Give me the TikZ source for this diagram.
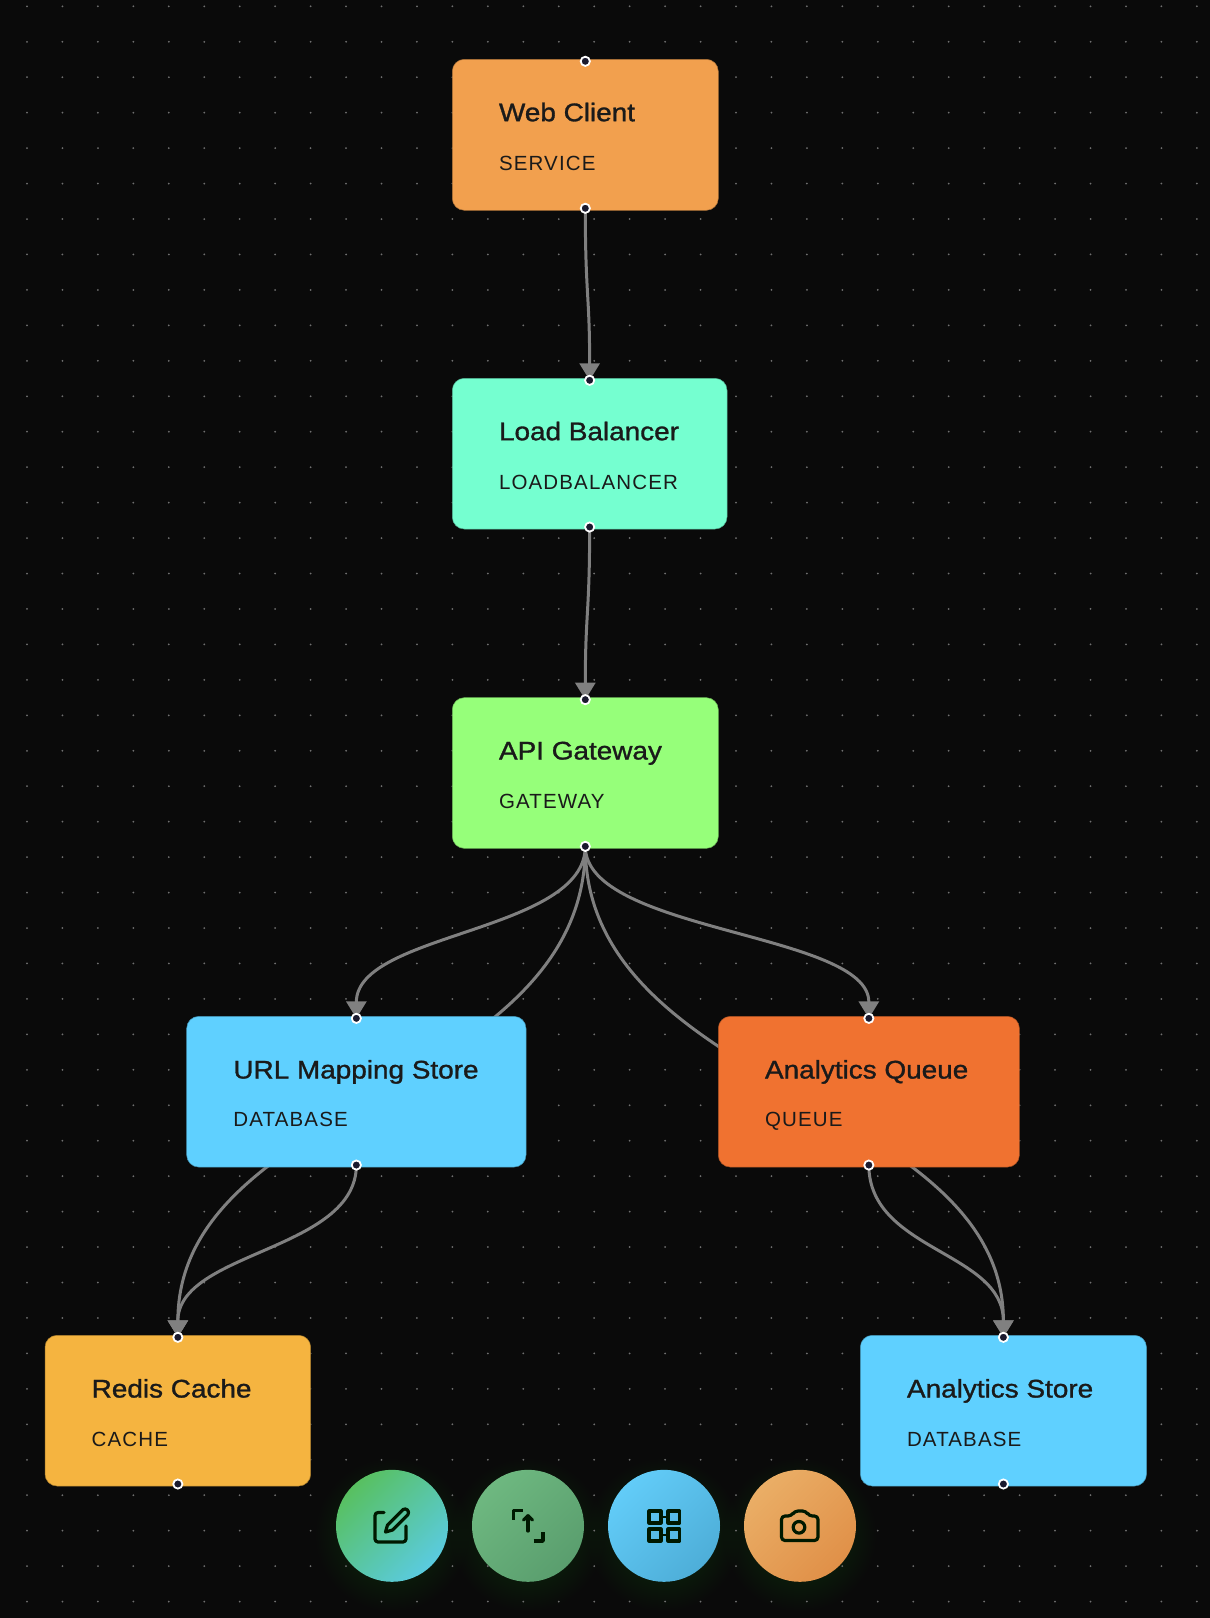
\documentclass[tikz,border=0pt]{standalone}
\usepackage{fontspec}
\usetikzlibrary{arrows.meta}
\newfontfamily\cardtitlefont{Liberation Sans}[FakeBold=1.2,FakeStretch=1.095]
\newfontfamily\cardsubfont{Liberation Sans}[LetterSpace=5.6]
\definecolor{canvas}{HTML}{0A0A0A}
\definecolor{griddot}{HTML}{707070}
\definecolor{glowgreen}{HTML}{50A05A}
\definecolor{linkgray}{HTML}{808080}
\definecolor{inkdark}{HTML}{1A1A1A}
\definecolor{portdark}{HTML}{1A1A2E}
\definecolor{webcol}{HTML}{F2A04E}
\definecolor{lbcol}{HTML}{75FFD0}
\definecolor{gwcol}{HTML}{96FF7A}
\definecolor{dbcol}{HTML}{5FD0FF}
\definecolor{queuecol}{HTML}{F07230}
\definecolor{cachecol}{HTML}{F5B440}
\pgfdeclarelayer{griddots}
\pgfdeclarelayer{links}
\pgfsetlayers{griddots,links,main}
\tikzset{
  card/.style={rectangle,rounded corners=12pt,inner sep=0pt,outer sep=0pt,draw=#1!70!black,line width=0.5pt,fill=#1},
  cardtitle/.style={anchor=base west,inner sep=0pt,text=inkdark,font=\cardtitlefont\fontsize{25.5}{30}\selectfont},
  cardsub/.style={anchor=base west,inner sep=0pt,text=inkdark,font=\cardsubfont\fontsize{20.5}{24}\selectfont},
  port/.style={circle,inner sep=0pt,minimum size=9.2pt,draw=white,line width=1.8pt,fill=portdark},
  link/.style={draw=linkgray,line width=3pt},
  linkarrow/.style={link,-{Triangle[width=20pt,length=17pt,fill=linkgray]}},
  toolbtn/.style={circle,inner sep=0pt,minimum size=112pt,shading=axis,shading angle=45},
  icon/.style={draw=black!90!green,line width=3.2pt,line cap=round,line join=round}
}
\begin{document}
\begin{tikzpicture}[x=1pt,y=-1pt]
    \useasboundingbox (0,0) rectangle (1210,1618);
    \begin{pgfonlayer}{griddots}
        \fill [canvas] (0,0) rectangle (1210,1618);
        % Glow under the buttons
        \foreach \cx in {392,528,664,800}
            \foreach \r in {50,52,...,76}
                \fill [glowgreen,opacity=0.006] (\cx,1535) circle (\r);
        \foreach \i in {0,...,33}
            \foreach \j in {0,...,45}
                \fill [griddot] ({27+35.45*\i},{6.3+35.45*\j}) circle (1);
    \end{pgfonlayer}

    % Cards
    \node [card=webcol,minimum width=266pt,minimum height=151pt] (web) at (585.3,134.8) {};
    \node [card=lbcol,minimum width=274.7pt,minimum height=150.7pt] (lb) at (589.65,453.65) {};
    \node [card=gwcol,minimum width=266pt,minimum height=150.7pt] (gw) at (585.3,773) {};
    \node [card=dbcol,minimum width=339.3pt,minimum height=150.7pt] (url) at (356.35,1091.7) {};
    \node [card=queuecol,minimum width=301.1pt,minimum height=150.7pt] (queue) at (868.85,1091.7) {};
    \node [card=cachecol,minimum width=265.7pt,minimum height=150.7pt] (redis) at (177.85,1410.65) {};
    \node [card=dbcol,minimum width=286.2pt,minimum height=150.7pt] (store) at (1003.4,1410.65) {};

    \node [cardtitle] (webtitle) at (498.8,121.2) {Web Client};
    \node [cardsub] (websub) at (498.8,170) {SERVICE};
    \node [cardtitle] (lbtitle) at (498.8,440.2) {Load Balancer};
    \node [cardsub] (lbsub) at (498.8,489) {LOADBALANCER};
    \node [cardtitle] (gwtitle) at (498.8,759.5) {API Gateway};
    \node [cardsub] (gwsub) at (498.8,808.3) {GATEWAY};
    \node [cardtitle] (urltitle) at (233.2,1078.5) {URL Mapping Store};
    \node [cardsub] (urlsub) at (233.2,1126.7) {DATABASE};
    \node [cardtitle] (queuetitle) at (764.8,1078.5) {Analytics Queue};
    \node [cardsub] (queuesub) at (764.8,1126.7) {QUEUE};
    \node [cardtitle] (redistitle) at (91.5,1397.5) {Redis Cache};
    \node [cardsub] (redissub) at (91.5,1446) {CACHE};
    \node [cardtitle] (storetitle) at (906.8,1397.5) {Analytics Store};
    \node [cardsub] (storesub) at (906.8,1446) {DATABASE};

    % Ports
    \node [port,yshift=-2pt] (webtop) at (web.north) {};
    \node [port,yshift=2pt] (webbot) at (web.south) {};
    \node [port,yshift=-2pt] (lbtop) at (lb.north) {};
    \node [port,yshift=2pt] (lbbot) at (lb.south) {};
    \node [port,yshift=-2pt] (gwtop) at (gw.north) {};
    \node [port,yshift=2pt] (gwbot) at (gw.south) {};
    \node [port,yshift=-2pt] (urltop) at (url.north) {};
    \node [port,yshift=2pt] (urlbot) at (url.south) {};
    \node [port,yshift=-2pt] (queuetop) at (queue.north) {};
    \node [port,yshift=2pt] (queuebot) at (queue.south) {};
    \node [port,yshift=-2pt] (redistop) at (redis.north) {};
    \node [port,yshift=2pt] (redisbot) at (redis.south) {};
    \node [port,yshift=-2pt] (storetop) at (store.north) {};
    \node [port,yshift=2pt] (storebot) at (store.south) {};

    % Links run behind the cards
    \begin{pgfonlayer}{links}
        \draw [linkarrow] (webbot.center) .. controls +(0,86) and +(0,-86) .. (lbtop.center);
        \draw [linkarrow] (lbbot.center) .. controls +(0,86) and +(0,-86) .. (gwtop.center);
        \draw [linkarrow] (gwbot.center) .. controls +(0,86) and +(0,-86) .. (urltop.center);
        \draw [linkarrow] (gwbot.center) .. controls +(0,86) and +(0,-86) .. (queuetop.center);
        \draw [linkarrow] (gwbot.center) .. controls +(0,244) and +(0,-236) .. (redistop.center);
        \draw [linkarrow] (gwbot.center) .. controls +(0,244) and +(0,-236) .. (storetop.center);
        \draw [linkarrow] (urlbot.center) .. controls +(0,86) and +(0,-86) .. (redistop.center);
        \draw [linkarrow] (queuebot.center) .. controls +(0,86) and +(0,-86) .. (storetop.center);
    \end{pgfonlayer}

    % Buttons
    \node [top color={rgb,255:red,88;green,192;blue,96},bottom color={rgb,255:red,90;green,203;blue,224},toolbtn] (editbtn) at (392,1525.8) {};
    \node [top color={rgb,255:red,110;green,184;blue,128},bottom color={rgb,255:red,90;green,158;blue,110},toolbtn] (movebtn) at (528,1525.8) {};
    \node [top color={rgb,255:red,98;green,204;blue,248},bottom color={rgb,255:red,78;green,174;blue,216},toolbtn] (gridbtn) at (664,1525.8) {};
    \node [top color={rgb,255:red,234;green,174;blue,102},bottom color={rgb,255:red,224;green,144;blue,72},toolbtn] (shotbtn) at (800,1525.8) {};

    % Edit icon
    \begin{scope}[shift={(362,1495)}]
        \draw [icon,rounded corners=3pt] (22,17.5) -- (13,17.5) -- (13,47) -- (44,47) -- (44,31);
        \draw [icon] (23.5,37) -- (25.5,30) -- (41,14.5) .. controls (44,12.5) and (48,16) .. (46,19.5) -- (30.5,35) -- cycle;
    \end{scope}
    % Move icon
    \begin{scope}[shift={(498,1495)}]
        \draw [icon,line cap=butt,line width=3.4pt] (24.5,15.5) -- (15.5,15.5) -- (15.5,25);
        \draw [icon,line cap=butt,line width=3.4pt] (35.5,46) -- (45,46) -- (45,36.5);
        \draw [icon] (30,36) -- (30,21);
        \draw [icon] (25.5,25) -- (30,20.5) -- (34.5,25);
    \end{scope}
    % Grid icon
    \begin{scope}[shift={(634,1495)}]
        \draw [icon] (15,16) rectangle (27,28);
        \draw [icon] (34,16) rectangle (45.5,28);
        \draw [icon] (15,34) rectangle (27,46);
        \draw [icon] (34,34) rectangle (45.5,46);
        \draw [icon,line width=2pt] (27,22) -- (34,22);
        \draw [icon,line width=2pt] (27,40) -- (34,40);
    \end{scope}
    % Camera icon
    \begin{scope}[shift={(770,1495)}]
        \draw [icon,rounded corners=3.5pt] (11.5,21) -- (21.5,21) -- (24.5,16) -- (36,16) -- (39,21) -- (48,21) -- (48,45.5) -- (11.5,45.5) -- cycle;
        \draw [icon] (29,32.3) circle (5.8);
    \end{scope}
\end{tikzpicture}
\end{document}
